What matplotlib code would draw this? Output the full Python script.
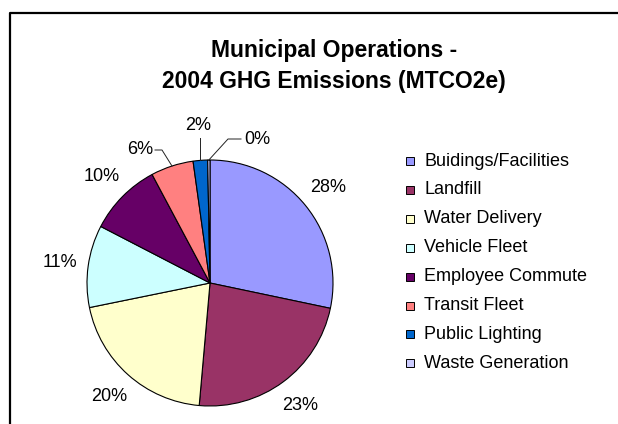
import numpy as np
import matplotlib
matplotlib.use("Agg")
import matplotlib.pyplot as plt
from matplotlib.patches import Rectangle
from matplotlib.lines import Line2D

plt.rcParams["font.family"] = ["Liberation Sans", "DejaVu Sans"]

# 2004 municipal GHG emissions share by source (percent)
categories = ["Buidings/Facilities", "Landfill", "Water Delivery", "Vehicle Fleet",
              "Employee Commute", "Transit Fleet", "Public Lighting", "Waste Generation"]
shares = [28.3, 23.1, 20.4, 10.8, 9.6, 5.6, 1.9, 0.3]
colors = ["#9999FF", "#993366", "#FFFFCC", "#CCFFFF",
          "#660066", "#FF8080", "#0066CC", "#CCCCFF"]
title_lines = ["Municipal Operations -", "2004 GHG Emissions (MTCO2e)"]

W, H = 618, 424
fig = plt.figure(figsize=(W / 100, H / 100), dpi=100)
ax = fig.add_axes([0, 0, 1, 1])


def Y(y_px):
    """Convert a top-down pixel row to the axes' bottom-up coordinate."""
    return H - y_px


cx, cy, R = 210, Y(283), 123
wedges, _ = ax.pie(shares, colors=colors, startangle=90, counterclock=False,
                   center=(cx, cy), radius=R,
                   wedgeprops=dict(edgecolor="black", linewidth=0.8))
ax.set_xlim(0, W)
ax.set_ylim(0, H)
ax.set_aspect("equal")
ax.axis("off")

# Percentage labels: regular ones sit outside the rim, small ones get leader lines
cum = np.cumsum([0] + shares)
label_r = 152
lead = dict(color="#222222", lw=0.7)
for i, v in enumerate(shares):
    mid = np.deg2rad((cum[i] + v / 2) / 100 * 360)
    ux, uy = np.sin(mid), np.cos(mid)
    txt = f"{round(v)}%"
    if v >= 8:
        ax.text(cx + label_r * ux, cy + label_r * uy, txt, fontsize=13,
                ha="center", va="center")
        continue
    ex, ey = cx + R * ux, cy + R * uy
    if i == 5:
        lx, ly = 140, Y(150)
        ax.add_line(Line2D([ex, 162, 155], [ey, ly, ly], **lead))
    elif i == 6:
        lx, ly = 198.5, Y(125)
        ax.add_line(Line2D([ex, ex], [ey, Y(138)], **lead))
    else:
        lx, ly = 257, Y(139)
        ax.add_line(Line2D([ex, 228, 241], [ey, Y(139), Y(139)], **lead))
    ax.text(lx, ly, txt, fontsize=13, ha="center", va="center")

# Title
ax.text(334, Y(57), title_lines[0], fontsize=16.5, fontweight="bold",
        ha="center", va="baseline")
ax.text(334, Y(88), title_lines[1], fontsize=16.5, fontweight="bold",
        ha="center", va="baseline")

# Legend
row0, step = 161, 28.9
for i, (name, c) in enumerate(zip(categories, colors)):
    yc = Y(row0 + i * step)
    ax.add_patch(Rectangle((406, yc - 4), 8, 8, facecolor=c,
                           edgecolor="black", linewidth=0.7))
    ax.text(424, yc, name, fontsize=13, ha="left", va="center")

# Chart area border (left and top edges are visible)
ax.add_line(Line2D([10, 10, W], [0, Y(12.5), Y(12.5)], color="black", lw=1.6))

fig.savefig("out.png", dpi=100)
